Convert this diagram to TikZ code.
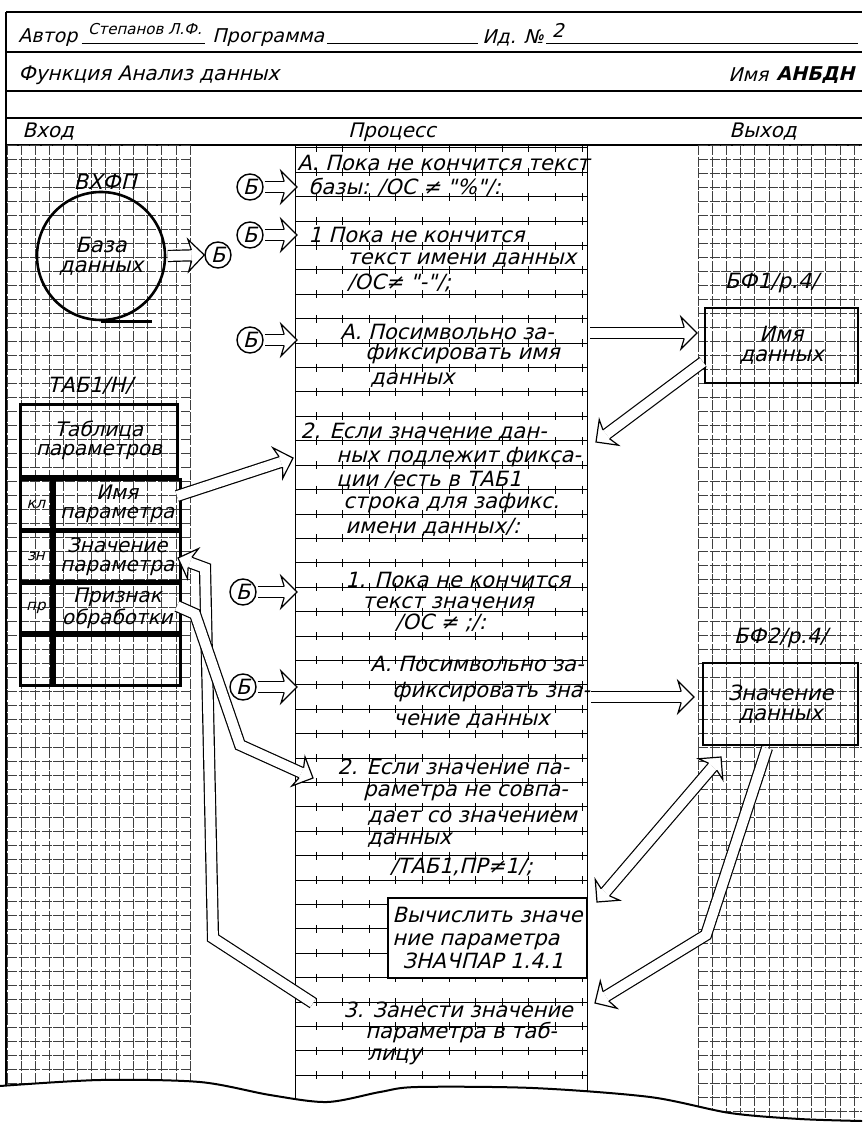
\documentclass[tikz,border=0pt]{standalone}
\usepackage{fontspec}
\newfontfamily\handfont{DejaVu Sans}[FakeSlant=0.25]
\usetikzlibrary{calc,positioning}

% hollow arrow head at #2, pointing away from #1
\newcommand{\hollowtip}[2]{%
  \draw[tiphead] let \p1=#1, \p2=#2, \n1={atan2(\y2-\y1,\x2-\x1)} in
    [shift={(\p2)}, rotate=\n1]
    (-6.4pt,2.75pt) -- (-8pt,8pt) -- (0pt,0pt) -- (-8pt,-8pt) -- (-6.4pt,-2.75pt);}

\begin{document}
\begin{tikzpicture}[
  x=0.5pt, y=-0.5pt,
  font=\handfont\fontsize{10.5}{12}\selectfont,
  gridln/.style={draw=black!75, line width=0.4pt, dash pattern=on 5pt off 0.8pt},
  rule/.style={draw=black, line width=0.5pt},
  frame/.style={draw=black, line width=0.7pt},
  hdr/.style={anchor=west, inner sep=0pt, font=\handfont\fontsize{9.5}{11}\selectfont},
  ptext/.style={anchor=west, inner sep=0pt},
  lab/.style={inner sep=0pt},
  bcirc/.style={circle, draw, line width=0.7pt, minimum size=13pt, inner sep=0pt, fill=white},
  outbox/.style={rectangle, draw, line width=1.4pt, align=center, inner sep=0pt,
                 font=\handfont\fontsize{10.5}{10}\selectfont},
  cell/.style={outbox, font=\handfont\fontsize{10}{9.5}\selectfont},
  keyw/.style={minimum width=15.5pt, font=\handfont\fontsize{7.5}{9}\selectfont},
  namew/.style={minimum width=63pt},
  shaft/.style={double, double distance=4.9pt, line width=0.6pt, line join=miter, shorten >=6.4pt},
  tiphead/.style={draw, line width=0.6pt, fill=white, line join=miter},
]
\useasboundingbox (0,0) rectangle (862,1122);

% ------------------------------------------------------------- form header
\draw[frame] (6,12) -- (862,12);
\draw[frame] (6,52) -- (862,52);
\draw[frame] (6,91) -- (862,91);
\draw[frame] (6,118) -- (862,118);
\draw[frame] (6,145) -- (862,145);
\draw[frame] (6,12) -- (6,1086);

\node[hdr] (autor) at (18,38) {Автор};
\node[lab, font=\handfont\fontsize{7.5}{9}\selectfont] (author) at (145,29) {Степанов Л.Ф.};
\node[hdr] (prog) at (212,38) {Программа};
\node[hdr] (idno) at (482,38) {Ид. №};
\node[lab, font=\handfont\fontsize{9.5}{11}\selectfont] (idval) at (558,30) {2};
\draw[rule] ([xshift=2pt]autor.east |- 0,44) -- (205,44);
\draw[rule] ([xshift=1pt]prog.east |- 0,44) -- (478,44);
\draw[rule] ([xshift=1pt]idno.east |- 0,44) -- (858,44);

\node[hdr, font=\handfont\fontsize{10}{11}\selectfont] (func) at (18,75) {Функция Анализ данных};
\node[hdr] (namelab) at (728,75) {Имя};
\node[hdr, font=\handfont\bfseries\fontsize{9.5}{11}\selectfont] (anbdn) at (776,75) {АНБДН};

\node[hdr, font=\handfont\fontsize{10}{11}\selectfont] (inhdr) at (22,132) {Вход};
\node[lab, font=\handfont\fontsize{10}{11}\selectfont] (prochdr) at (392,132) {Процесс};
\node[lab, font=\handfont\fontsize{10}{11}\selectfont] (outhdr) at (763,132) {Выход};

% ------------------------------------------------------ paper grid and rules
\begin{scope}
  \clip (0,140) -- (862,140) -- plot[smooth] coordinates {(862,1121) (800,1119) (730,1113)
        (650,1097) (533,1088) (417,1087) (380,1092) (327,1102) (270,1095) (200,1082)
        (100,1080) (0,1086)} -- cycle;
  % input column
  \foreach \i in {0,...,13} \draw[gridln] (7+14.08*\i,145) -- (7+14.08*\i,1110);
  \foreach \j in {0,...,68} \draw[gridln] (7,145+14*\j) -- (190,145+14*\j);
  % output column
  \foreach \i in {0,...,11} \draw[gridln] (698+14.2*\i,145) -- (698+14.2*\i,1122);
  \foreach \j in {0,...,70} \draw[gridln] (698,145+14*\j) -- (862,145+14*\j);
  % process column
  \draw[rule] (295,145) -- (295,1122);
  \draw[rule] (587,145) -- (587,1122);
  \foreach \k in {0,...,38} {
    \draw[rule] (295,148+24.4*\k) -- (587,148+24.4*\k);
    \foreach \i in {0,...,10}
      \draw[rule] (316+26.6*\i,144+24.4*\k) -- (316+26.6*\i,152+24.4*\k);
  }
\end{scope}
\draw[line width=1pt] plot[smooth] coordinates {(862,1121) (800,1119) (730,1113)
      (650,1097) (533,1088) (417,1087) (380,1092) (327,1102) (270,1095) (200,1082)
      (100,1080) (0,1086)};

% ------------------------------------------------------------------- input
\node[circle, draw, line width=1.3pt, minimum size=64pt, inner sep=0pt, align=center,
      font=\handfont\fontsize{10.5}{10}\selectfont] (db) at (101,256) {База\\данных};
\draw[line width=1.3pt] (db.south) -- ++(51,0);
\node[lab] (vxfp) at (105,182) {ВХФП};

\node[cell, minimum width=78.5pt, minimum height=36pt, anchor=north west] (tabhead)
     at (19,403) {Таблица\\параметров};
\node[lab, above=4pt of tabhead, xshift=-4.5pt] (tablab) {ТАБ1/Н/};
\node[cell, keyw, minimum height=25pt, anchor=north west] (kl) at (tabhead.south west) {кл};
\node[cell, namew, minimum height=25pt, anchor=north west] (klname) at (kl.north east) {Имя\\параметра};
\node[cell, keyw, minimum height=24.5pt, anchor=north west] (zn) at (kl.south west) {зн};
\node[cell, namew, minimum height=24.5pt, anchor=north west] (znname) at (zn.north east) {Значение\\параметра};
\node[cell, keyw, minimum height=24.5pt, anchor=north west] (pr) at (zn.south west) {пр};
\node[cell, namew, minimum height=24.5pt, anchor=north west] (prname) at (pr.north east) {Признак\\обработки};
\node[cell, keyw, minimum height=25pt, anchor=north west] (em) at (pr.south west) {};
\node[cell, namew, minimum height=25pt, anchor=north west] (emname) at (em.north east) {};

% ----------------------------------------------------------------- process
\coordinate (pl) at (297,0);
\node[ptext] (s1a) at (297,163) {А. Пока не кончится текст};
\node[ptext] (s1b) at (308,187) {базы: /ОС ≠ "\%"/:};
\node[ptext] (s2a) at (308,235) {1 Пока не кончится};
\node[ptext] (s2b) at (347,260) {текст имени данных};
\node[ptext] (s2c) at (347,283) {/ОС≠ "-"/;};
\node[ptext] (s3a) at (340,332) {А. Посимвольно за-};
\node[ptext] (s3b) at (365,354) {фиксировать имя};
\node[ptext] (s3c) at (370,380) {данных};
\node[ptext] (s4a) at (300,432) {2. Если значение дан-};
\node[ptext] (s4b) at (336,457) {ных подлежит фикса-};
\node[ptext] (s4c) at (336,480) {ции /есть в ТАБ1};
\node[ptext] (s4d) at (343,503) {строка для зафикс.};
\node[ptext] (s4e) at (345,527) {имени данных/:};
\node[ptext] (s5a) at (345,580) {1. Пока не кончится};
\node[ptext] (s5b) at (362,603) {текст значения};
\node[ptext] (s5c) at (395,623) {/ОС ≠ ;/:};
\node[ptext] (s6a) at (370,664) {А. Посимвольно за-};
\node[ptext] (s6b) at (392,692) {фиксировать зна-};
\node[ptext] (s6c) at (393,721) {чение данных};
\node[ptext] (s7a) at (337,767) {2. Если значение па-};
\node[ptext] (s7b) at (363,793) {раметра не совпа-};
\node[ptext] (s7c) at (367,818) {дает со значением};
\node[ptext] (s7d) at (367,840) {данных};
\node[ptext] (s7e) at (390,867) {/ТАБ1,ПР≠1/;};
\node[outbox, fill=white, minimum width=99.5pt, minimum height=40pt, align=left,
      font=\handfont\fontsize{10.5}{11.3}\selectfont] (vych) at (487.5,938)
     {Вычислить значе\\ние параметра\\\hspace*{5pt}ЗНАЧПАР 1.4.1};
\node[ptext] (s8a) at (343,1010) {3. Занести значение};
\node[ptext] (s8b) at (365,1033) {параметра в таб-};
\node[ptext] (s8c) at (367,1057) {лицу};

% ------------------------------------------------------------------ output
\node[outbox, minimum width=76.5pt, minimum height=37.5pt] (imya) at (781.5,345.5) {Имя\\данных};
\node[lab, above=6.5pt of imya, xshift=-5pt] (bf1) {БФ1/р.4/};
\node[outbox, minimum width=77.5pt, minimum height=41pt] (znach) at (780.5,704) {Значение\\данных};
\node[lab, above=6.5pt of znach] (bf2) {БФ2/р.4/};

% -------------------------------------------------------- Б connectors
\node[bcirc] (b0) at (218,255) {Б};
\node[bcirc] (b1) at (250,187) {Б};
\node[bcirc] (b2) at (250,235) {Б};
\node[bcirc] (b3) at (250,340) {Б};
\node[bcirc] (b4) at (243,592) {Б};
\node[bcirc] (b5) at (243,687) {Б};

\draw[shaft] ([xshift=0.7pt]db.east) -- (b0.west);
\hollowtip{(db.east)}{(b0.west)}
\foreach \b in {b1,b2,b3,b4,b5} {
  \draw[shaft] ([xshift=0.4pt]\b.east) -- (\b.east -| pl);
  \hollowtip{(\b.east)}{(\b.east -| pl)}
}

% ------------------------------------------------------------ data flows
\coordinate (nameout) at (590,333);
\coordinate (nametip) at (697,333);
\coordinate (namefrom) at (703,362);
\coordinate (ifname) at (596,442);
\coordinate (parout) at (177,496);
\coordinate (ifpar) at (293,458);
\coordinate (valout) at (591,697);
\coordinate (valtip) at (694,697);
\coordinate (calcend) at (597,902);
\coordinate (valend) at (721,757);
\coordinate (valfrom) at (767,748);
\coordinate (valbend) at (706,935);
\coordinate (storetip) at (595,1003);
\coordinate (storeout) at (313,1003);
\coordinate (storebend) at (213,938);
\coordinate (storeup) at (205,568);
\coordinate (partip) at (178,558);
\coordinate (flagout) at (177,606);
\coordinate (flagbend) at (195,614);
\coordinate (flaglow) at (240,745);
\coordinate (cmptip) at (313,778);

\draw[shaft] (nameout) -- (nametip);
\hollowtip{(nameout)}{(nametip)}
\draw[shaft] (namefrom) -- (ifname);
\hollowtip{(namefrom)}{(ifname)}
\draw[shaft] (parout) -- (ifpar);
\hollowtip{(parout)}{(ifpar)}
\draw[shaft] (valout) -- (valtip);
\hollowtip{(valout)}{(valtip)}
\draw[shaft, shorten <=6.4pt] (calcend) -- (valend);
\hollowtip{(calcend)}{(valend)}
\hollowtip{(valend)}{(calcend)}
\draw[shaft] (valfrom) -- (valbend) -- (storetip);
\hollowtip{(valbend)}{(storetip)}
\draw[shaft] (storeout) -- (storebend) -- (storeup) -- (partip);
\hollowtip{(storeup)}{(partip)}
\draw[shaft] (flagout) -- (flagbend) -- (flaglow) -- (cmptip);
\hollowtip{(flaglow)}{(cmptip)}
\end{tikzpicture}
\end{document}
